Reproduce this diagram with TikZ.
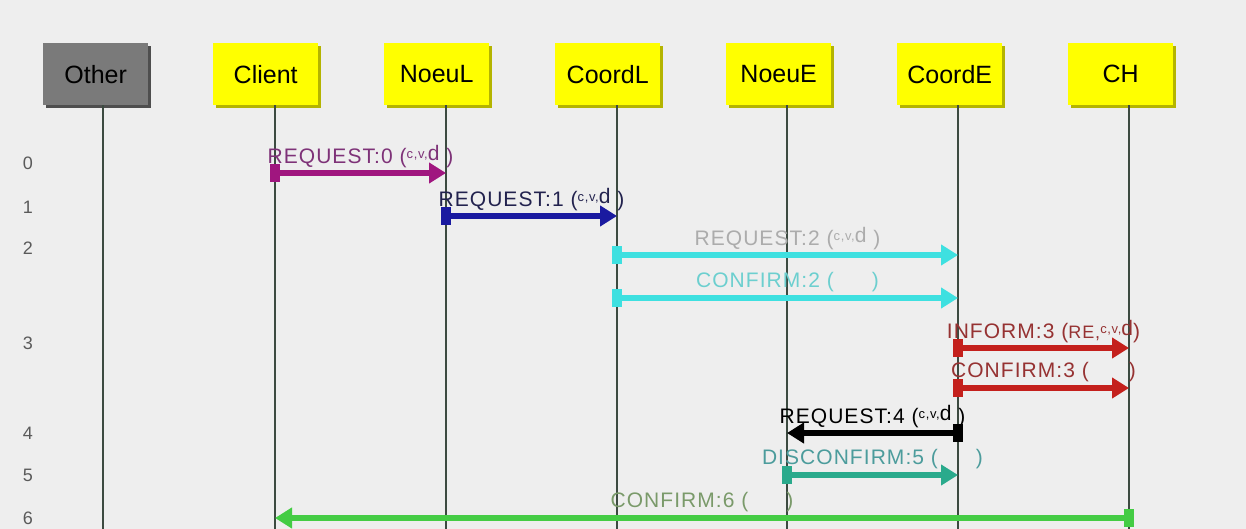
\documentclass[tikz,border=0pt]{standalone}
\usepackage{fontspec}
\setmainfont{Liberation Sans}
\newfontfamily\msgfont[LetterSpace=5]{Liberation Sans}
\usetikzlibrary{arrows.meta,shadows}

\definecolor{bg}{HTML}{EEEEEE}
\definecolor{lifecol}{HTML}{3C4A40}
\definecolor{actorY}{HTML}{FFFF00}
\definecolor{actorYsh}{HTML}{B4B400}
\definecolor{actorG}{HTML}{7A7A7A}
\definecolor{actorGsh}{HTML}{4E4E4E}
\definecolor{rownum}{HTML}{5A5A5A}
% message colours (line / label)
\definecolor{mMag}{HTML}{A0167F}   \definecolor{tMag}{HTML}{7E3278}
\definecolor{mBlue}{HTML}{1A1AA0}  \definecolor{tBlue}{HTML}{22224E}
\definecolor{mCyan}{HTML}{3EE0E0}  \definecolor{tGrey}{HTML}{ACACAC}
\definecolor{tCyan}{HTML}{6CCFCF}
\definecolor{mRed}{HTML}{C4201C}   \definecolor{tRed}{HTML}{963232}
\definecolor{mTeal}{HTML}{2AAA8C}  \definecolor{tTeal}{HTML}{4C9C9C}
\definecolor{mGreen}{HTML}{44CC44} \definecolor{tGreen}{HTML}{7A9A6A}

% parameter list "(c,v,d )" with the small raised letters
\newcommand\cvd{{\fontsize{13}{13}\selectfont\raisebox{5pt}{c,v,}}\raisebox{3pt}{d}}

\begin{document}
\begin{tikzpicture}[x=1pt,y=-1pt,
  actor/.style={fill=#1, minimum width=105pt, minimum height=62pt,
    inner sep=0pt, anchor=north west, font=\fontsize{25}{25}\selectfont},
  yactor/.style={actor=actorY,
    drop shadow={shadow xshift=3pt,shadow yshift=-3pt,fill=actorYsh,opacity=1}},
  gactor/.style={actor=actorG,
    drop shadow={shadow xshift=3pt,shadow yshift=-3pt,fill=actorGsh,opacity=1}},
  life/.style={draw=lifecol, line width=2pt},
  msg/.style={draw=#1, line width=6pt, shorten <=-5pt,
    arrows={Rectangle[length=10pt,width=18pt]-Triangle[length=17pt,width=20pt]}},
  lbl/.style={midway, yshift=16pt, inner sep=0pt, text=#1,
    font=\msgfont\fontsize{21}{21}\selectfont},
  rowlbl/.style={text=rownum, font=\fontsize{18}{18}\selectfont, inner sep=0pt}
]
% canvas
\fill[bg] (0,0) rectangle (1246,529);
\useasboundingbox (0,0) rectangle (1246,529);

% participants
\node[gactor] (Other)  at (43,43)   {Other};
\node[yactor] (Client) at (213,43)  {Client};
\node[yactor] (NoeuL)  at (384,43)  {NoeuL};
\node[yactor] (CoordL) at (555,43)  {CoordL};
\node[yactor] (NoeuE)  at (726,43)  {NoeuE};
\node[yactor] (CoordE) at (897,43)  {CoordE};
\node[yactor] (CH)     at (1068,43) {CH};

% lifelines
\foreach \n/\x in {Other/103,Client/275,NoeuL/446,CoordL/617,NoeuE/787,CoordE/958,CH/1129}{
  \coordinate (\n-end) at (\x,529);
  \draw[life] (\n.south -| \n-end) -- (\n-end);
}

% row numbers
\node[rowlbl] (n0) at (28,163) {0};
\node[rowlbl] (n1) at (28,207) {1};
\node[rowlbl] (n2) at (28,248) {2};
\node[rowlbl] (n3) at (28,343) {3};
\node[rowlbl] (n4) at (28,433) {4};
\node[rowlbl] (n5) at (28,475) {5};
\node[rowlbl] (n6) at (28,518) {6};

% message rows
\coordinate (r0)  at (0,173);
\coordinate (r1)  at (0,216);
\coordinate (r2a) at (0,255);
\coordinate (r2b) at (0,298);
\coordinate (r3a) at (0,348);
\coordinate (r3b) at (0,388);
\coordinate (r4)  at (0,433);
\coordinate (r5)  at (0,475);
\coordinate (r6)  at (0,518);

% messages
\draw[msg=mMag] (Client-end |- r0) -- (NoeuL-end |- r0)
  node[lbl=tMag] {REQUEST:0 (\cvd\ )};
\draw[msg=mBlue] (NoeuL-end |- r1) -- (CoordL-end |- r1)
  node[lbl=tBlue] {REQUEST:1 (\cvd\ )};
\draw[msg=mCyan] (CoordL-end |- r2a) -- (CoordE-end |- r2a)
  node[lbl=tGrey] {REQUEST:2 (\cvd\ )};
\draw[msg=mCyan] (CoordL-end |- r2b) -- (CoordE-end |- r2b)
  node[lbl=tCyan] {CONFIRM:2 (\hspace{38pt})};
\draw[msg=mRed] (CoordE-end |- r3a) -- (CH-end |- r3a)
  node[lbl=tRed] {INFORM:3 ({\fontsize{18}{18}\selectfont RE,}\cvd)};
\draw[msg=mRed] (CoordE-end |- r3b) -- (CH-end |- r3b)
  node[lbl=tRed] {CONFIRM:3 (\hspace{40pt})};
\draw[msg=black] (CoordE-end |- r4) -- (NoeuE-end |- r4)
  node[lbl=black] {REQUEST:4 (\cvd\ )};
\draw[msg=mTeal] (NoeuE-end |- r5) -- (CoordE-end |- r5)
  node[lbl=tTeal] {DISCONFIRM:5 (\hspace{38pt})};
\draw[msg=mGreen] (CH-end |- r6) -- (Client-end |- r6)
  node[lbl=tGreen] {CONFIRM:6 (\hspace{38pt})};
\end{tikzpicture}
\end{document}
